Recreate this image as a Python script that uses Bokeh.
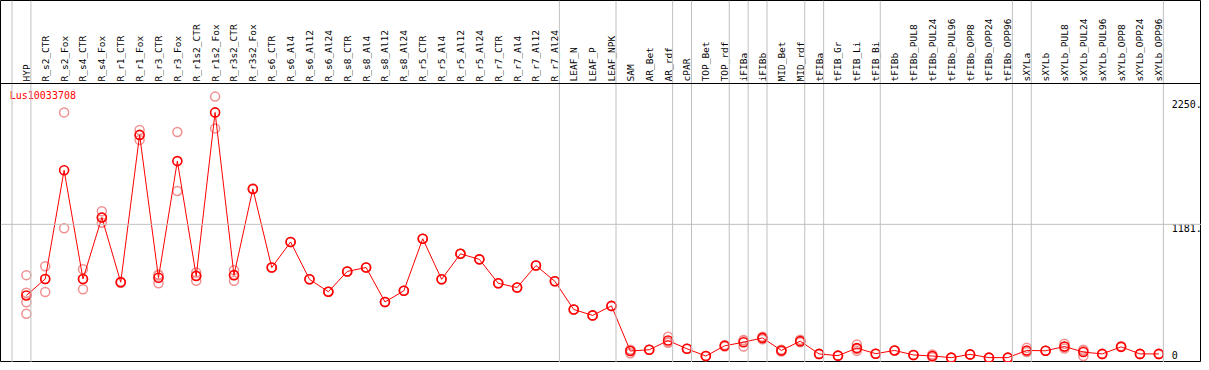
import numpy as np
from bokeh.plotting import figure
from bokeh.models import Range1d, Span, ColumnDataSource
from bokeh.core.properties import value
from bokeh.embed import file_html
from bokeh.resources import INLINE

gene_id = "Lus10033708"

columns = [
    "HYP", "R_s2_CTR", "R_s2_Fox", "R_s4_CTR", "R_s4_Fox", "R_r1_CTR", "R_r1_Fox",
    "R_r3_CTR", "R_r3_Fox", "R_r1s2_CTR", "R_r1s2_Fox", "R_r3s2_CTR", "R_r3s2_Fox",
    "R_s6_CTR", "R_s6_Al4", "R_s6_Al12", "R_s6_Al24", "R_s8_CTR", "R_s8_Al4",
    "R_s8_Al12", "R_s8_Al24", "R_r5_CTR", "R_r5_Al4", "R_r5_Al12", "R_r5_Al24",
    "R_r7_CTR", "R_r7_Al4", "R_r7_Al12", "R_r7_Al24", "LEAF_N", "LEAF_P", "LEAF_NPK",
    "SAM", "AR_Bet", "AR_rdf", "cPAR", "TOP_Bet", "TOP_rdf", "iFIBa", "iFIBb",
    "MID_Bet", "MID_rdf", "tFIBa", "tFIB_Gr", "tFIB_Li", "tFIB_Bi", "tFIBb",
    "tFIBb_PUL8", "tFIBb_PUL24", "tFIBb_PUL96", "tFIBb_OPP8", "tFIBb_OPP24", "tFIBb_OPP96",
    "sXYLa", "sXYLb", "sXYLb_PUL8", "sXYLb_PUL24", "sXYLb_PUL96", "sXYLb_OPP8",
    "sXYLb_OPP24", "sXYLb_OPP96",
]

means = [
    568, 710, 1647, 710, 1240, 682, 1952, 721, 1726, 735, 2146, 743, 1486,
    809, 1029, 707, 600, 775, 809, 512, 608, 1057, 707, 927, 879, 673, 636, 826, 690,
    447, 396, 478, 89, 100, 179, 108, 46, 134, 165, 202, 94, 174, 64, 49, 114, 66,
    94, 55, 46, 32, 60, 32, 32, 94, 91, 128, 80, 64, 125, 64, 64,
]

replicates = [
    [743, 591, 509, 410], [820, 597, 710], [2146, 1147], [794, 622, 710],
    [1294, 1195, 1240], [677, 687], [1994, 1909, 1952], [749, 740, 673],
    [1977, 1469], [766, 695, 740], [2282, 2008], [786, 695, 745], [1486, 1490],
    [809, 809], [1029, 1029], [707, 707], [600, 600], [775, 775], [809, 809],
    [512, 512], [608, 608], [1057, 1057], [707, 707], [927, 927], [879, 879],
    [673, 673], [636, 636], [826, 826], [690, 690], [447, 447], [396, 396], [478, 478],
    [95, 70, 100], [100, 100], [213, 165, 160], [108, 108], [46, 46], [140, 128],
    [185, 128, 180], [213, 190, 202], [94, 85, 100], [187, 165], [64, 64], [49, 49],
    [145, 90, 107], [66, 66], [94, 94], [55, 55], [60, 35, 46], [32, 32], [60, 60],
    [32, 32], [32, 32], [117, 80, 85], [91, 91], [151, 110, 125], [100, 46, 94],
    [64, 64], [125, 130], [64, 64], [64, 64],
]

# index of the last column of each sample group (-1 = frame start)
group_last = [-1, 0, 28, 31, 34, 35, 37, 38, 39, 41, 42, 45, 52, 53, 60]

ytick_values = [2250, 1181, 0]
ytick_labels = ["2250.", "1181.", "0"]
grid_value = 1181

# ---------------------------------------------------------------- layout
W, H = 1201, 362
HEADER_PX = 83
MAIN_PX = H - HEADER_PX
Y_MIN, Y_MAX = -10, 2395
upp = (Y_MAX - Y_MIN) / MAIN_PX
Y_TOP = Y_MAX + HEADER_PX * upp
MONO = value("DejaVu Sans Mono")

idx = list(range(len(columns)))

p = figure(width=W, height=H, x_range=Range1d(-1.37, 62.26),
           y_range=Range1d(Y_MIN, Y_TOP), output_backend="svg",
           toolbar_location=None, x_axis_location=None, y_axis_location=None,
           min_border=0)
p.grid.visible = False
p.outline_line_color = "black"
p.outline_line_width = 1
p.background_fill_color = "white"
p.border_fill_color = "white"

for g in group_last:
    p.add_layout(Span(location=g + 0.24, dimension="height",
                      line_color="#c0c0c0", line_width=1))
p.add_layout(Span(location=grid_value, dimension="width",
                  line_color="#c0c0c0", line_width=1))
p.add_layout(Span(location=Y_MAX, dimension="width",
                  line_color="black", line_width=1))

# header labels
p.text(x=idx, y=[Y_MAX + 2 * upp] * len(idx), text=columns, angle=np.pi / 2,
       text_align="left", text_baseline="middle", text_font=MONO,
       text_font_size="9.5px", text_color="black")

# replicates
rx, ry = [], []
for i, reps in enumerate(replicates):
    for v in reps:
        rx.append(i)
        ry.append(v)
p.scatter(rx, ry, marker="circle", size=9, fill_color=None,
          line_color="#f09090", line_width=1.5)

# mean profile
p.line(idx, means, line_color="red", line_width=1)
p.scatter(idx, means, marker="circle", size=9, fill_color=None,
          line_color="red", line_width=1.6)

# gene id
p.text(x=[-0.88], y=[2290], text=[gene_id], text_align="left",
       text_baseline="middle", text_font=MONO, text_font_size="10px",
       text_color="red")

# right-hand scale labels
p.text(x=[60.68] * 3, y=ytick_values, text=ytick_labels, text_align="left",
       text_baseline="middle", text_font=MONO, text_font_size="10px",
       text_color="black", y_offset=[4, 4, -6])

open("out.html", "w").write(file_html(p, INLINE))
